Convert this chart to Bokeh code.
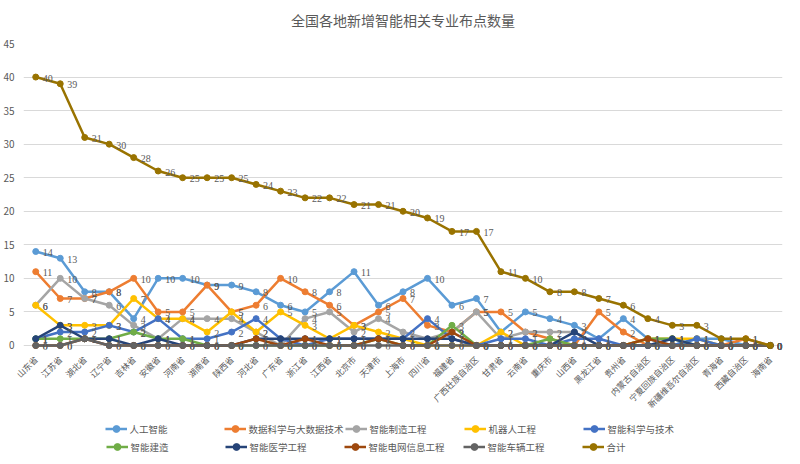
import math
from bokeh.plotting import figure
from bokeh.layouts import column
from bokeh.models import (ColumnDataSource, LabelSet, Legend, LegendItem, Range1d,
                          FactorRange, FixedTicker, Title)
from bokeh.embed import file_html
from bokeh.resources import INLINE

provinces = ["山东省", "江苏省", "湖北省", "辽宁省", "吉林省", "安徽省", "河南省", "湖南省",
             "陕西省", "河北省", "广东省", "浙江省", "江西省", "北京市", "天津市", "上海市",
             "四川省", "福建省", "广西壮族自治区", "甘肃省", "云南省", "重庆市", "山西省",
             "黑龙江省", "贵州省", "内蒙古自治区", "宁夏回族自治区", "新疆维吾尔自治区",
             "青海省", "西藏自治区", "海南省"]

ai = [14, 13, 8, 8, 4, 10, 10, 9, 9, 8, 6, 5, 8, 11, 6, 8, 10, 6, 7, 2, 5, 4, 3, 1, 4, 1, 0, 1, 1, 0, 0]
data_sci = [11, 7, 7, 8, 10, 5, 5, 9, 5, 6, 10, 8, 6, 3, 5, 7, 3, 2, 5, 5, 2, 1, 0, 5, 2, 0, 0, 0, 0, 1, 0]
manufacturing = [6, 10, 7, 6, 3, 1, 4, 4, 4, 2, 0, 4, 5, 2, 4, 2, 1, 2, 5, 1, 2, 2, 2, 0, 0, 0, 0, 0, 0, 0, 0]
robotics = [6, 3, 3, 3, 7, 4, 4, 2, 5, 2, 5, 3, 1, 3, 2, 1, 0, 0, 0, 2, 0, 0, 0, 0, 0, 1, 1, 1, 0, 0, 0]
intel_sci = [1, 2, 2, 3, 2, 4, 1, 1, 2, 4, 1, 0, 1, 1, 1, 1, 4, 1, 0, 1, 1, 0, 1, 1, 0, 0, 0, 1, 0, 0, 0]
construction = [1, 1, 1, 1, 2, 1, 1, 0, 0, 0, 0, 0, 0, 0, 1, 0, 0, 3, 0, 0, 0, 1, 0, 0, 0, 1, 1, 0, 0, 0, 0]
medical = [1, 3, 1, 1, 0, 1, 0, 0, 0, 1, 1, 1, 1, 1, 1, 1, 1, 1, 0, 0, 0, 0, 2, 0, 0, 0, 1, 0, 0, 0, 0]
grid_info = [0, 0, 1, 0, 0, 0, 0, 0, 0, 1, 0, 1, 0, 0, 1, 0, 0, 2, 0, 0, 0, 0, 0, 0, 0, 1, 0, 0, 0, 0, 0]
vehicle = [0, 0, 1, 0, 0, 0, 0, 0, 0, 0, 0, 0, 0, 0, 0, 0, 0, 0, 0, 0, 0, 0, 0, 0, 0, 0, 0, 0, 0, 0, 0]
total = [40, 39, 31, 30, 28, 26, 25, 25, 25, 24, 23, 22, 22, 21, 21, 20, 19, 17, 17, 11, 10, 8, 8, 7, 6, 4, 3, 3, 1, 1, 0]

series_names = ["人工智能", "数据科学与大数据技术", "智能制造工程", "机器人工程", "智能科学与技术",
                "智能建造", "智能医学工程", "智能电网信息工程", "智能车辆工程", "合计"]
series_values = [ai, data_sci, manufacturing, robotics, intel_sci,
                 construction, medical, grid_info, vehicle, total]
colors = ["#5B9BD5", "#ED7D31", "#A5A5A5", "#FFC000", "#4472C4",
          "#70AD47", "#264478", "#9E480E", "#636363", "#997300"]

FONT = "Noto Sans CJK SC"
TXT = "#595959"

p = figure(x_range=FactorRange(*provinces), y_range=Range1d(-0.6, 45),
           width=784, height=420, output_backend="svg", toolbar_location=None,
           min_border_left=17, min_border_right=2, min_border_top=43, min_border_bottom=71)

p.title.text = "全国各地新增智能相关专业布点数量"
p.title.align = "center"
p.title.text_font = FONT
p.title.text_font_size = "14px"
p.title.text_font_style = "normal"
p.title.text_color = TXT
p.title.standoff = 0
# blank spacer between the title and the plot area
p.add_layout(Title(text=" ", text_font_size="11px", standoff=0), "above")

p.outline_line_color = None
p.xgrid.grid_line_color = None
p.ygrid.grid_line_color = "#D9D9D9"
p.ygrid.grid_line_width = 1

p.yaxis.ticker = FixedTicker(ticks=list(range(0, 46, 5)))
p.yaxis.axis_line_color = None
p.yaxis.major_tick_line_color = None
p.yaxis.minor_tick_line_color = None
p.yaxis.major_label_standoff = 3
p.yaxis.major_label_text_font = FONT
p.yaxis.major_label_text_font_size = "10px"
p.yaxis.major_label_text_color = TXT

p.xaxis.axis_line_color = None
p.xaxis.major_tick_line_color = None
p.xaxis.minor_tick_line_color = None
p.xaxis.major_label_orientation = math.pi / 4
p.xaxis.major_label_standoff = 2
p.xaxis.major_label_text_font = FONT
p.xaxis.major_label_text_font_size = "8.5px"
p.xaxis.major_label_text_color = TXT

sources = []
for name, vals, col in zip(series_names, series_values, colors):
    src = ColumnDataSource(dict(x=provinces, y=vals, lbl=[str(v) for v in vals]))
    sources.append(src)
    p.line("x", "y", source=src, line_color=col, line_width=2.5)
    p.scatter("x", "y", source=src, size=6, fill_color=col, line_color=col)
    p.add_layout(LabelSet(x="x", y="y", text="lbl", source=src, x_offset=7, y_offset=-1,
                          text_baseline="middle", text_align="left", text_font=FONT,
                          text_font_size="10px", text_color=TXT))

# legend panel below the chart: same series, drawn outside its (legend-only) y range
lg = figure(width=784, height=35, output_backend="svg", toolbar_location=None,
            x_range=p.x_range, y_range=Range1d(-100, -99),
            x_axis_location=None, y_axis_location=None,
            min_border_left=17, min_border_right=2, min_border_top=0, min_border_bottom=0)
lg.grid.visible = False
lg.outline_line_color = None

leg_renderers = []
for src, col in zip(sources, colors):
    lr = lg.line("x", "y", source=src, line_color=col, line_width=2.5)
    sr = lg.scatter("x", "y", source=src, size=6, fill_color=col, line_color=col)
    leg_renderers.append([lr, sr])

for row, loc in enumerate(["top_center", "bottom_center"]):
    items = [LegendItem(label=series_names[i], renderers=leg_renderers[i])
             for i in range(row * 5, row * 5 + 5)]
    legend = Legend(items=items, orientation="horizontal", location=loc,
                    padding=0, margin=0, spacing=1,
                    glyph_width=22, glyph_height=17, label_height=17, label_width=93,
                    label_standoff=3, label_text_font=FONT, label_text_font_size="9.5px",
                    label_text_color=TXT, background_fill_alpha=0, border_line_color=None)
    lg.add_layout(legend)

layout = column(p, lg)
open("out.html", "w").write(file_html(layout, INLINE))
